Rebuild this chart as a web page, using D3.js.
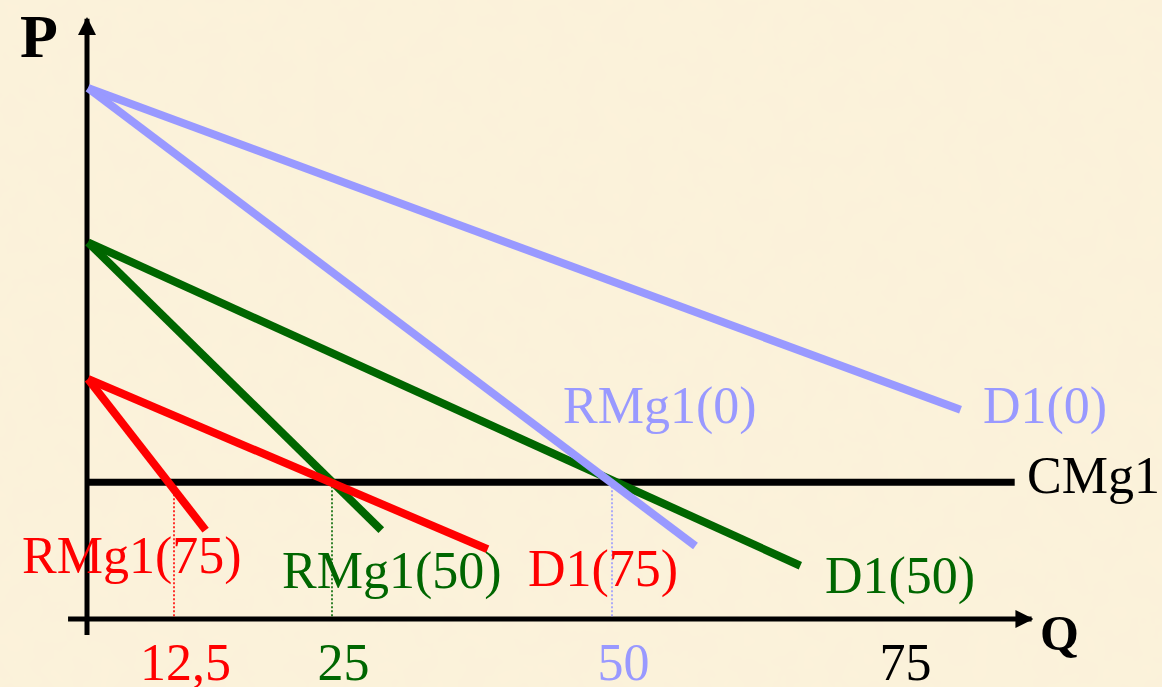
<!DOCTYPE html>
<html>
<head>
<meta charset="utf-8">
<script src="https://cdn.jsdelivr.net/npm/d3@7"></script>
<style>
  html, body { margin: 0; padding: 0; background: #fbf0d6; }
  svg { display: block; }
  text { font-family: "Liberation Serif", "Times New Roman", serif; }
</style>
</head>
<body>
<svg id="chart" width="1162" height="687"></svg>
<script>
// ---------------- data ----------------
// Q tick values and labels (schematic axis)
const xTickValues = [12.5, 25, 50, 75];
const xTickLabels = ["12,5", "25", "50", "75"];
const xTickColors = ["red", "green", "blue", "black"];

// line series: name, colour key, start [Q,P], end [Q,P]
const seriesNames  = ["D1(0)", "RMg1(0)", "D1(50)", "RMg1(50)", "D1(75)", "RMg1(75)"];
const seriesColors = ["blue", "blue", "green", "green", "red", "red"];
const seriesStartQ = [0, 0, 0, 0, 0, 0];
const seriesStartP = [100, 100, 71, 71, 45.3, 45.3];
const seriesEndQ   = [80.9, 57.4, 66.7, 29.4, 38.9, 15.0];
const seriesEndP   = [39.5, 13.9, 10.2, 16.9, 13.3, 16.9];

// marginal cost (horizontal)
const cmgName = "CMg1";
const cmgP = 25.9;
const cmgEndQ = 85.7;

// optimal quantities marked with dotted verticals
const optimumQ = [12.5, 25, 50];
const optimumColors = ["red", "green", "blue"];

// ---------------- styles ----------------
const palette = { blue: "#9999ff", green: "#006600", red: "#ff0000", black: "#000000" };

// label placement (pixel, start/baseline)
const labelPos = {
  "D1(0)":    [983, 423],
  "RMg1(0)":  [563, 423],
  "D1(50)":   [825, 593],
  "RMg1(50)": [282, 588],
  "D1(75)":   [528, 586],
  "RMg1(75)": [22, 573]
};

const svg = d3.select("#chart");
const W = 1162, H = 687;

// background parchment texture
const defs = svg.append("defs");
const filt = defs.append("filter").attr("id", "paper").attr("x", 0).attr("y", 0).attr("width", "100%").attr("height", "100%");
filt.append("feTurbulence").attr("type", "fractalNoise").attr("baseFrequency", "0.035").attr("numOctaves", 3).attr("seed", 4).attr("result", "noise");
filt.append("feColorMatrix").attr("in", "noise").attr("type", "matrix")
  .attr("values", "0 0 0 0 0.93  0 0 0 0 0.86  0 0 0 0 0.68  0 0 0 0.22 0").attr("result", "tint");
filt.append("feComposite").attr("in", "tint").attr("in2", "SourceGraphic").attr("operator", "over");
svg.append("rect").attr("width", W).attr("height", H).attr("fill", "#fcf2da").attr("filter", "url(#paper)");

// arrow marker
defs.append("marker").attr("id", "arrow").attr("viewBox", "0 0 10 10")
  .attr("refX", 9).attr("refY", 5).attr("markerWidth", 3.6).attr("markerHeight", 3.6)
  .attr("markerUnits", "strokeWidth").attr("orient", "auto")
  .append("path").attr("d", "M0,0 L10,5 L0,10 Z").attr("fill", "#000");

// ---------------- scales ----------------
// schematic (piecewise) quantity axis
const x = d3.scaleLinear().domain([0, 12.5, 25, 50, 75]).range([88, 174, 332, 612, 894]);
const y = d3.scaleLinear().domain([0, 100]).range([620, 88]);

// ---------------- axes ----------------
// y axis line with arrow
svg.append("line")
  .attr("x1", x(0) - 1).attr("y1", y(-2.8))
  .attr("x2", x(0) - 1).attr("y2", y(113))
  .attr("stroke", "#000").attr("stroke-width", 5).attr("marker-end", "url(#arrow)");
// x axis line with arrow
svg.append("line")
  .attr("x1", x(-2.9)).attr("y1", y(0) - 1)
  .attr("x2", x(87.2)).attr("y2", y(0) - 1)
  .attr("stroke", "#000").attr("stroke-width", 5).attr("marker-end", "url(#arrow)");

// axis titles
svg.append("text").attr("x", 20).attr("y", 57).attr("font-size", 62).attr("font-weight", "bold").attr("fill", "#000").text("P");
svg.append("text").attr("x", 1040).attr("y", 650).attr("font-size", 50).attr("font-weight", "bold").attr("fill", "#000").text("Q");

// tick labels via d3 axis
const xAxis = d3.axisBottom(x).tickValues(xTickValues)
  .tickFormat((d, i) => xTickLabels[i]).tickSize(0).tickPadding(0);
const gx = svg.append("g").attr("transform", `translate(11,${y(0)})`).call(xAxis);
gx.select(".domain").remove();
gx.selectAll(".tick text")
  .attr("dy", null).attr("y", 60)
  .attr("font-size", 52)
  .attr("font-family", "Liberation Serif, Times New Roman, serif")
  .attr("fill", (d, i) => palette[xTickColors[i]]);

// ---------------- dotted verticals ----------------
svg.selectAll("line.opt").data(optimumQ).join("line").attr("class", "opt")
  .attr("x1", d => x(d)).attr("x2", d => x(d))
  .attr("y1", y(cmgP)).attr("y2", y(0) - 2)
  .attr("stroke", (d, i) => palette[optimumColors[i]])
  .attr("stroke-width", 1.6).attr("stroke-dasharray", "2,2");

// ---------------- CMg1 ----------------
svg.append("line")
  .attr("x1", x(0)).attr("x2", x(cmgEndQ))
  .attr("y1", y(cmgP)).attr("y2", y(cmgP))
  .attr("stroke", "#000").attr("stroke-width", 7);
svg.append("text").attr("x", 1027).attr("y", 493).attr("font-size", 52).attr("fill", "#000").text(cmgName);

// ---------------- demand / marginal revenue lines ----------------
const series = seriesNames.map((n, i) => ({
  name: n, color: palette[seriesColors[i]],
  pts: [[seriesStartQ[i], seriesStartP[i]], [seriesEndQ[i], seriesEndP[i]]]
}));
const lineGen = d3.line().x(d => x(d[0])).y(d => y(d[1]));
// draw order: green and red under blue as in reference
const order = ["D1(50)", "RMg1(50)", "D1(75)", "RMg1(75)", "D1(0)", "RMg1(0)"];
svg.selectAll("path.series").data(order.map(n => series.find(s => s.name === n))).join("path")
  .attr("class", "series")
  .attr("d", d => lineGen(d.pts))
  .attr("fill", "none").attr("stroke", d => d.color).attr("stroke-width", 8);

svg.selectAll("text.slabel").data(series).join("text").attr("class", "slabel")
  .attr("x", d => labelPos[d.name][0]).attr("y", d => labelPos[d.name][1])
  .attr("font-size", 52).attr("fill", d => d.color).text(d => d.name);
</script>
</body>
</html>
